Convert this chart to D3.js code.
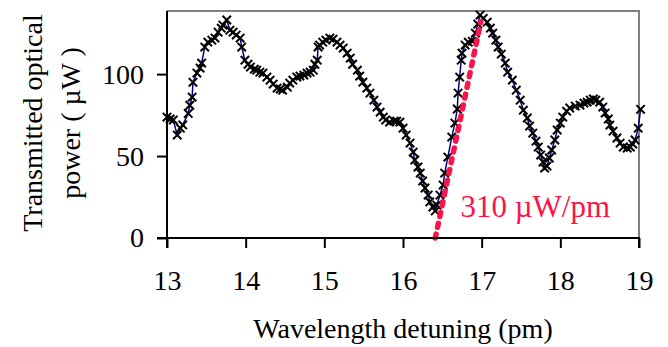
<!DOCTYPE html>
<html>
<head>
<meta charset="utf-8">
<script src="https://cdn.jsdelivr.net/npm/d3@7"></script>
<style>
  body { margin: 0; background: #fff; }
  svg text { font-family: "Liberation Serif", "Times New Roman", serif; }
</style>
</head>
<body>
<svg id="chart" width="668" height="347"></svg>
<script>
// measured trace (wavelength detuning in pm, transmitted power in uW)
const detuning = [13.00, 13.04, 13.08, 13.13, 13.17, 13.20, 13.27, 13.29, 13.32, 13.33, 13.38, 13.42, 13.44, 13.48, 13.52, 13.57, 13.61, 13.65, 13.69, 13.71, 13.76, 13.80, 13.84, 13.88, 13.93, 13.95, 13.99, 14.03, 14.06, 14.11, 14.14, 14.18, 14.22, 14.27, 14.31, 14.35, 14.40, 14.44, 14.47, 14.53, 14.56, 14.60, 14.65, 14.69, 14.74, 14.78, 14.82, 14.86, 14.88, 14.91, 14.92, 14.94, 14.98, 15.02, 15.07, 15.11, 15.16, 15.20, 15.24, 15.29, 15.33, 15.36, 15.42, 15.45, 15.49, 15.54, 15.58, 15.63, 15.67, 15.71, 15.75, 15.78, 15.83, 15.89, 15.92, 15.96, 16.00, 16.04, 16.09, 16.13, 16.15, 16.19, 16.22, 16.25, 16.28, 16.32, 16.34, 16.38, 16.41, 16.43, 16.47, 16.51, 16.53, 16.57, 16.62, 16.66, 16.69, 16.70, 16.72, 16.74, 16.75, 16.79, 16.83, 16.88, 16.92, 16.95, 16.98, 17.02, 17.07, 17.11, 17.14, 17.18, 17.21, 17.25, 17.30, 17.33, 17.39, 17.44, 17.49, 17.53, 17.58, 17.61, 17.65, 17.69, 17.72, 17.75, 17.78, 17.80, 17.83, 17.86, 17.89, 17.93, 17.96, 18.00, 18.03, 18.08, 18.12, 18.19, 18.25, 18.30, 18.34, 18.38, 18.42, 18.45, 18.50, 18.54, 18.57, 18.61, 18.63, 18.67, 18.72, 18.76, 18.80, 18.85, 18.89, 18.92, 18.95, 18.99, 19.02];
const power = [73.8, 72.6, 72.0, 62.8, 67.0, 69.0, 76.0, 81.0, 86.0, 95.0, 100.6, 103.7, 106.7, 116.5, 119.5, 120.7, 122.0, 125.6, 128.0, 129.9, 133.0, 126.8, 125.6, 123.8, 122.0, 116.5, 108.5, 106.0, 104.3, 103.0, 102.4, 101.2, 100.6, 98.2, 96.3, 93.9, 91.5, 90.9, 90.2, 92.0, 94.5, 96.3, 98.2, 98.8, 99.4, 100.6, 101.2, 102.4, 106.0, 108.5, 116.5, 117.7, 119.5, 120.7, 122.0, 121.3, 119.5, 117.7, 115.9, 112.8, 109.8, 106.0, 102.4, 98.8, 95.1, 91.5, 88.4, 84.1, 79.9, 76.8, 73.8, 72.0, 70.7, 71.3, 71.3, 70.7, 67.0, 62.8, 57.9, 52.4, 47.6, 43.3, 39.6, 34.8, 30.5, 26.2, 22.0, 18.9, 16.5, 20.1, 26.2, 32.3, 39.6, 49.4, 61.6, 70.1, 78.7, 88.4, 98.2, 108.5, 112.8, 117.7, 119.5, 120.0, 125.0, 130.5, 136.0, 134.0, 131.7, 128.0, 125.0, 120.7, 116.5, 112.2, 106.7, 101.2, 96.3, 90.2, 84.1, 78.0, 73.2, 68.3, 64.0, 59.1, 55.5, 50.6, 46.3, 42.7, 43.9, 48.8, 53.7, 59.8, 65.9, 70.1, 73.8, 77.4, 79.3, 80.5, 81.1, 82.3, 82.9, 84.1, 84.8, 84.1, 82.9, 79.9, 76.2, 72.6, 68.9, 65.2, 61.0, 57.9, 55.5, 54.9, 55.5, 57.3, 59.8, 67.0, 78.5];

// slope fit drawn as red dashed line
const fitX = [16.41, 16.99];
const fitY = [0, 132];
const fitLabel = '310 \u00b5W/pm';

const xTicks = [13, 14, 15, 16, 17, 18, 19];
const yTicks = [0, 50, 100];

const margin = {top: 11, right: 29, bottom: 109, left: 167};
const svgW = 668, svgH = 347;
const width = svgW - margin.left - margin.right;
const height = svgH - margin.top - margin.bottom;
const red = '#fa1449';

const svg = d3.select('#chart');
const g = svg.append('g')
  .attr('transform', `translate(${margin.left},${margin.top})`);

const sx = d3.scaleLinear().domain([13, 19]).range([0, width]);
const sy = d3.scaleLinear().domain([0, 138.5]).range([height, 0]);

// frame: gray top and right
g.append('path')
  .attr('d', `M0,0H${width}V${height}`)
  .attr('fill', 'none')
  .attr('stroke', '#808080')
  .attr('stroke-width', 2);

// data line
const line = d3.line()
  .x((d, i) => sx(detuning[i]))
  .y((d, i) => sy(power[i]));

g.append('path')
  .datum(power)
  .attr('d', line)
  .attr('fill', 'none')
  .attr('stroke', '#000080')
  .attr('stroke-width', 1.5);

// x markers
const m = 4.2;
g.append('g').selectAll('path')
  .data(power)
  .join('path')
  .attr('d', (d, i) => {
    const cx = sx(detuning[i]), cy = sy(d);
    return `M${cx - m},${cy - m}L${cx + m},${cy + m}M${cx - m},${cy + m}L${cx + m},${cy - m}`;
  })
  .attr('stroke', '#000')
  .attr('stroke-width', 2);

// fitted slope
g.append('line')
  .attr('x1', sx(fitX[0])).attr('y1', sy(fitY[0]))
  .attr('x2', sx(fitX[1])).attr('y2', sy(fitY[1]))
  .attr('stroke', red)
  .attr('stroke-width', 5.5)
  .attr('stroke-linecap', 'round')
  .attr('stroke-dasharray', '4,7');

g.append('text')
  .attr('x', sx(16.73))
  .attr('y', sy(12.8))
  .attr('fill', red)
  .style('font-size', '31px')
  .text(fitLabel);

// axes
const xAxis = d3.axisBottom(sx).tickValues(xTicks).tickSize(10).tickPadding(22).tickFormat(d3.format('d'));
const yAxis = d3.axisLeft(sy).tickValues(yTicks).tickSize(10).tickPadding(13).tickFormat(d3.format('d'));

const gx = g.append('g')
  .attr('transform', `translate(0,${height})`)
  .call(xAxis);
const gy = g.append('g').call(yAxis);

[gx, gy].forEach(a => {
  a.select('.domain').attr('stroke', '#000').attr('stroke-width', 2);
  a.selectAll('.tick line').attr('stroke', '#000').attr('stroke-width', 2);
  a.selectAll('.tick text')
    .attr('fill', '#000')
    .style('font-size', '28px')
    .style('font-family', '"Liberation Serif", "Times New Roman", serif');
});
gy.select('.domain').attr('d', `M-10,${height}H0V0`);
gx.select('.domain').attr('d', `M0,10V0H${width}V10`);

// titles
svg.append('text')
  .attr('x', margin.left + width / 2)
  .attr('y', 338)
  .attr('text-anchor', 'middle')
  .style('font-size', '28px')
  .text('Wavelength detuning (pm)');

const yTitle = svg.append('text')
  .attr('transform', 'translate(0,123) rotate(-90)')
  .attr('text-anchor', 'middle')
  .style('font-size', '28px');
yTitle.append('tspan').attr('x', 0).attr('y', 42).text('Transmitted optical');
yTitle.append('tspan').attr('x', 0).attr('y', 80).text('power ( \u00b5W )');
</script>
</body>
</html>
